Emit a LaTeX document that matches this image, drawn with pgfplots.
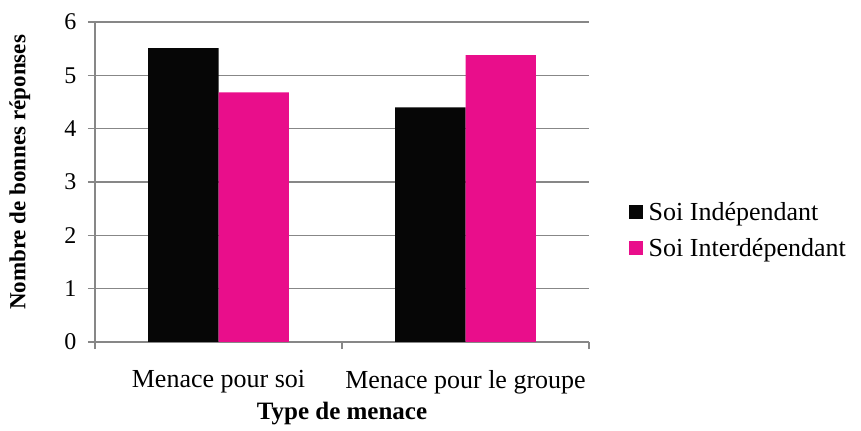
\documentclass[border=0pt]{standalone}
\usepackage{fontspec}
\setmainfont{Liberation Serif}
\usepackage{pgfplots}
\pgfplotsset{compat=1.18}
\definecolor{barblack}{RGB}{6,6,6}
\definecolor{barpink}{RGB}{233,14,139}
\definecolor{gridgray}{RGB}{135,135,135}
\begin{document}
\begin{tikzpicture}
\useasboundingbox (0,0) rectangle (861bp,431bp);
\begin{axis}[
  at={(95bp,89bp)}, anchor=south west,
  scale only axis, width=494bp, height=320bp,
  ybar=0pt, bar width=0.285,
  xmin=-0.5, xmax=1.5, ymin=0, ymax=6,
  axis x line*=bottom, axis y line*=left,
  axis line style={gridgray, line width=1.2bp},
  ytick={0,1,2,3,4,5,6},
  ymajorgrids, grid style={gridgray, line width=1.2bp},
  xtick={-0.5,0.5,1.5}, xticklabels={},
  tick align=outside, major tick length=7bp,
  tick style={gridgray, line width=1.2bp},
  extra x ticks={0,1},
  extra x tick labels={Menace pour soi, Menace pour le groupe},
  extra x tick style={major tick length=0pt, grid=none,
     xticklabel style={yshift=-25bp, font=\fontsize{26bp}{30bp}\selectfont}},
  ticklabel style={font=\fontsize{24bp}{28bp}\selectfont, text=black},
  yticklabel style={xshift=-8bp},
  /pgf/number format/assume math mode=true,
  xlabel={\textbf{Type de menace}},
  ylabel={\textbf{Nombre de bonnes réponses}},
  label style={font=\fontsize{23bp}{27bp}\selectfont},
  xlabel style={at={(axis description cs:0.5,-0.222)}, anchor=center,
     font=\fontsize{25bp}{29bp}\selectfont},
  ylabel style={at={(axis description cs:-0.152,0.53)}, anchor=center, rotate=0},
  legend style={at={(axis description cs:1.08,0.35)}, anchor=west, draw=none,
     fill=none, font=\fontsize{26bp}{30bp}\selectfont, inner sep=0pt,
     row sep=15bp, nodes={inner sep=1bp},
     /tikz/every odd column/.append style={column sep=5bp}},
  legend cell align=left,
  legend image code/.code={\fill[#1] (0bp,-7bp) rectangle (14bp,7bp);},
]
\addplot[fill=barblack, draw=none] coordinates {(0,5.51) (1,4.40)};
\addplot[fill=barpink, draw=none] coordinates {(0,4.68) (1,5.38)};
\legend{Soi Indépendant, Soi Interdépendant}
\end{axis}
\end{tikzpicture}
\end{document}
